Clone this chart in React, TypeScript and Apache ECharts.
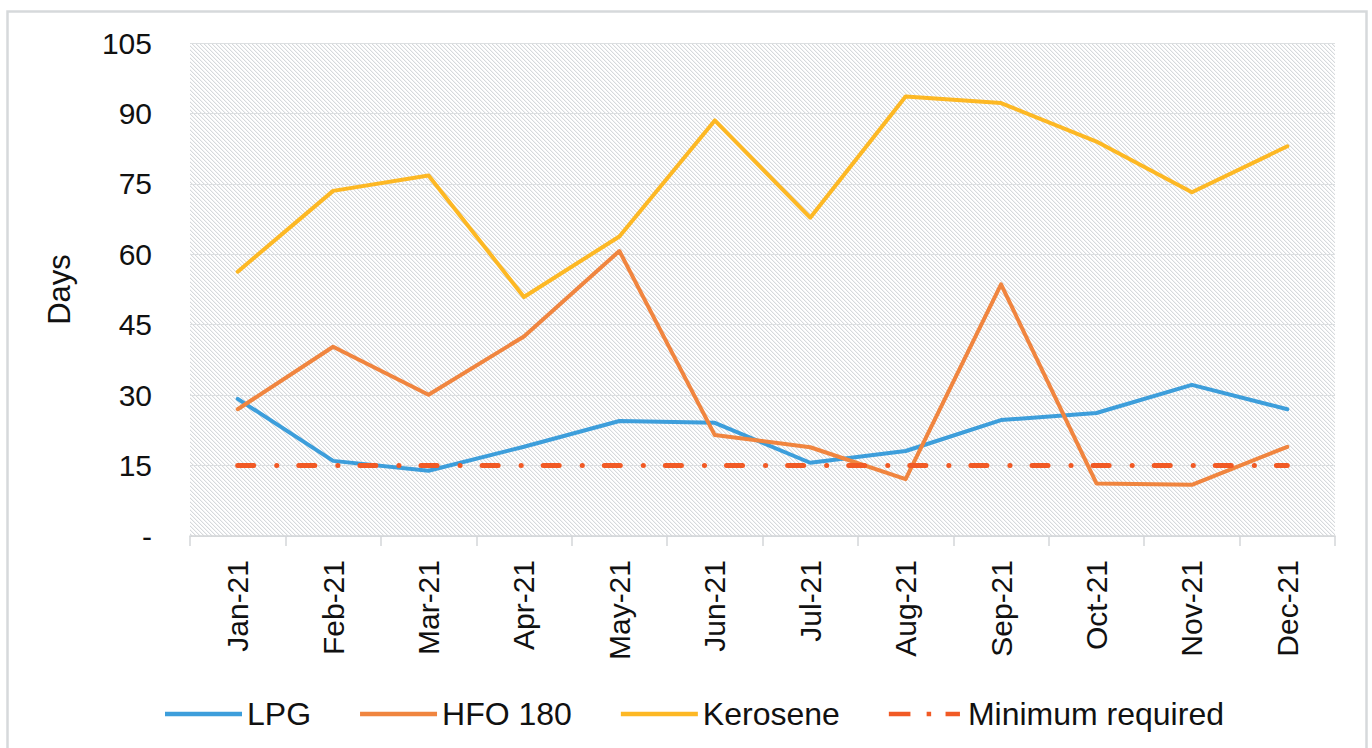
import React, { useEffect, useRef } from 'react';
import * as echarts from 'echarts';

const categories = ['Jan-21', 'Feb-21', 'Mar-21', 'Apr-21', 'May-21', 'Jun-21', 'Jul-21', 'Aug-21', 'Sep-21', 'Oct-21', 'Nov-21', 'Dec-21'];
const lpg = [29.2, 16.0, 13.9, 19.0, 24.5, 24.1, 15.6, 18.1, 24.7, 26.2, 32.2, 27.0];
const hfo180 = [27.0, 40.3, 30.1, 42.5, 60.7, 21.5, 18.9, 12.1, 53.6, 11.2, 10.9, 19.0];
const kerosene = [56.3, 73.5, 76.8, 50.9, 63.8, 88.5, 67.8, 93.6, 92.2, 84.0, 73.2, 83.0];
const minimumRequired = [15, 15, 15, 15, 15, 15, 15, 15, 15, 15, 15, 15];
const yMin = 0;
const yMax = 105;
const yStep = 15;

const FONT = "'Liberation Sans', Arial, Helvetica, sans-serif";
const COLORS = { lpg: '#3d9edb', hfo: '#f0853f', ker: '#fdb824', min: '#f15a25' };

const DASH_DOT_ICON = 'path://M0,0H24V5H0Z M42,0H47V5H42Z M63,0H79V5H63Z';

function makeHatch(): string {
  const c = document.createElement('canvas');
  c.width = 4;
  c.height = 4;
  const ctx = c.getContext('2d')!;
  ctx.fillStyle = '#ffffff';
  ctx.fillRect(0, 0, 4, 4);
  for (let i = 0; i < 4; i++) {
    ctx.fillStyle = '#d6d9dc';
    ctx.fillRect(i, i, 1, 1);
    ctx.fillStyle = '#f2f3f4';
    ctx.fillRect((i + 1) % 4, i, 1, 1);
  }
  return c.toDataURL();
}

export default function App() {
  const ref = useRef<HTMLDivElement>(null);
  useEffect(() => {
    if (!ref.current) return;
    const chart = echarts.init(ref.current, null, { renderer: 'svg' });
    const hatch = makeHatch();
    const lineSeries = (name: string, data: number[], color: string, width: number, type: any = 'solid') => ({
      name,
      type: 'line',
      data,
      symbol: 'none',
      smooth: false,
      lineStyle: { color, width, type, cap: 'round', join: 'round' },
      itemStyle: { color },
      emphasis: { disabled: true },
      z: 3,
    });
    chart.setOption({
      animation: false,
      backgroundColor: '#ffffff',
      textStyle: { fontFamily: FONT },
      graphic: [
        {
          type: 'rect',
          shape: { x: 7.5, y: 11.5, width: 1359, height: 760 },
          style: { fill: 'none', stroke: '#d6d9db', lineWidth: 2.5 },
          silent: true,
          z: -10,
        },
      ],
      grid: {
        left: 190,
        right: 37,
        top: 43,
        bottom: 212,
        show: true,
        borderWidth: 0,
        backgroundColor: { image: hatch, repeat: 'repeat', imageWidth: 4, imageHeight: 4 } as any,
      },
      legend: {
        left: 160,
        top: 691,
        itemWidth: 77,
        itemHeight: 4.5,
        itemGap: 49,
        selectedMode: false,
        textStyle: { fontSize: 32, color: '#111', fontFamily: FONT, lineHeight: 36 },
        data: [
          { name: 'LPG', icon: 'rect' },
          { name: 'HFO 180', icon: 'rect' },
          { name: 'Kerosene', icon: 'rect' },
          { name: 'Minimum required', icon: DASH_DOT_ICON },
        ],
      },
      xAxis: {
        type: 'category',
        data: categories,
        boundaryGap: true,
        axisLine: { show: true, lineStyle: { color: '#d3d6d8', width: 1.5 } },
        axisTick: { show: true, length: 10, alignWithLabel: false, lineStyle: { color: '#d3d6d8', width: 1.5 } },
        axisLabel: { rotate: 90, margin: 24, fontSize: 30, color: '#111', fontFamily: FONT, interval: 0 },
        splitLine: { show: false },
      },
      yAxis: {
        type: 'value',
        min: yMin,
        max: yMax,
        interval: yStep,
        name: 'Days',
        nameLocation: 'middle',
        nameGap: 115,
        nameTextStyle: { fontSize: 31, color: '#111', fontFamily: FONT },
        axisLine: { show: false },
        axisTick: { show: false },
        axisLabel: {
          margin: 38,
          fontSize: 30,
          color: '#111',
          fontFamily: FONT,
          formatter: (v: number) => (v === 0 ? '-' : String(v)),
        },
        splitLine: { show: true, lineStyle: { color: '#dcdfe1', width: 1.2 } },
      },
      series: [
        lineSeries('LPG', lpg, COLORS.lpg, 4),
        lineSeries('HFO 180', hfo180, COLORS.hfo, 4),
        lineSeries('Kerosene', kerosene, COLORS.ker, 4),
        lineSeries('Minimum required', minimumRequired, COLORS.min, 5, [16, 23, 0.1, 22]),
      ],
    });
    return () => chart.dispose();
  }, []);
  return (
    <div
      ref={ref}
      style={{ position: 'fixed', left: 0, top: 0, width: 1372, height: 748, background: '#fff' }}
    />
  );
}
